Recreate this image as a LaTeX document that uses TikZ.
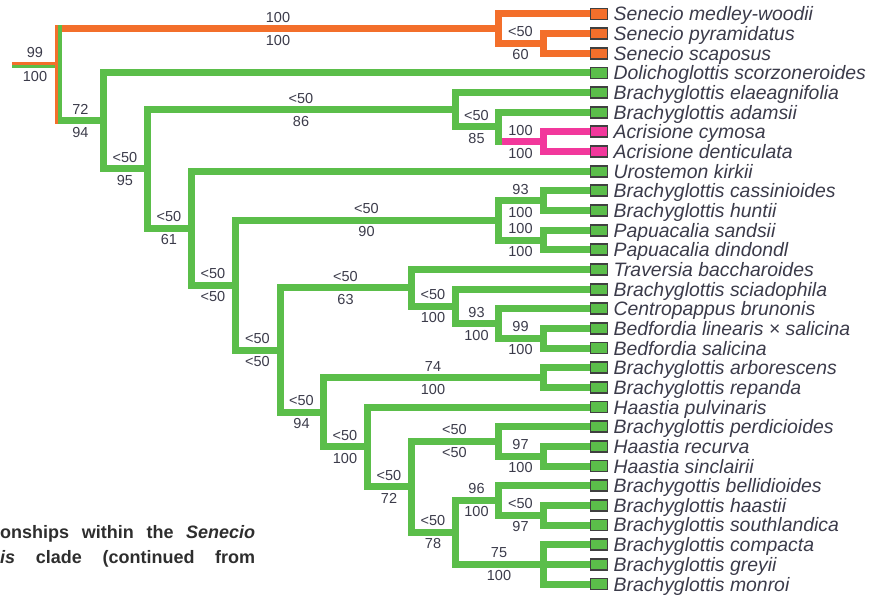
\documentclass[tikz,border=0pt]{standalone}
\usepackage{fontspec}
\setmainfont{Liberation Sans}
\usetikzlibrary{positioning}
\definecolor{treegreen}{HTML}{5BBE4A}
\definecolor{treeorange}{HTML}{F36F2B}
\definecolor{treepink}{HTML}{F2389C}
\definecolor{labelgray}{HTML}{3B3B4A}
\tikzset{
  branch/.style={line width=7pt},
  tipbox/.style={draw=black!75, line width=1.8pt, minimum width=17pt, minimum height=11pt, inner sep=0pt},
  taxon/.style={inner sep=0pt, text height=18pt, text depth=4pt, text=labelgray, font=\fontsize{19.4}{20}\selectfont\itshape},
  support/.style={inner sep=0pt, text=labelgray, font=\fontsize{14.5}{15}\selectfont},
  upval/.style={support, pos=.75, yshift=11.5pt},
  downval/.style={support, pos=.75, yshift=-11.5pt},
  captiontext/.style={anchor=base west, inner sep=0pt, text=black!82, font=\fontsize{18}{20}\selectfont\bfseries},
}
\begin{document}
\begin{tikzpicture}[x=1pt, y=-1pt]
      \useasboundingbox (0,0) rectangle (876,601);
      % tips
      \path
        (599,14.0) node[tipbox, fill=treeorange] (t0){}
        (599,33.7) node[tipbox, fill=treeorange] (t1){}
        (599,53.3) node[tipbox, fill=treeorange] (t2){}
        (599,73.0) node[tipbox, fill=treegreen] (t3){}
        (599,92.6) node[tipbox, fill=treegreen] (t4){}
        (599,112.3) node[tipbox, fill=treegreen] (t5){}
        (599,131.9) node[tipbox, fill=treepink] (t6){}
        (599,151.6) node[tipbox, fill=treepink] (t7){}
        (599,171.2) node[tipbox, fill=treegreen] (t8){}
        (599,190.9) node[tipbox, fill=treegreen] (t9){}
        (599,210.6) node[tipbox, fill=treegreen] (t10){}
        (599,230.2) node[tipbox, fill=treegreen] (t11){}
        (599,249.9) node[tipbox, fill=treegreen] (t12){}
        (599,269.5) node[tipbox, fill=treegreen] (t13){}
        (599,289.2) node[tipbox, fill=treegreen] (t14){}
        (599,308.8) node[tipbox, fill=treegreen] (t15){}
        (599,328.5) node[tipbox, fill=treegreen] (t16){}
        (599,348.1) node[tipbox, fill=treegreen] (t17){}
        (599,367.8) node[tipbox, fill=treegreen] (t18){}
        (599,387.4) node[tipbox, fill=treegreen] (t19){}
        (599,407.1) node[tipbox, fill=treegreen] (t20){}
        (599,426.8) node[tipbox, fill=treegreen] (t21){}
        (599,446.4) node[tipbox, fill=treegreen] (t22){}
        (599,466.1) node[tipbox, fill=treegreen] (t23){}
        (599,485.7) node[tipbox, fill=treegreen] (t24){}
        (599,505.4) node[tipbox, fill=treegreen] (t25){}
        (599,525.0) node[tipbox, fill=treegreen] (t26){}
        (599,544.7) node[tipbox, fill=treegreen] (t27){}
        (599,564.3) node[tipbox, fill=treegreen] (t28){}
        (599,584.0) node[tipbox, fill=treegreen] (t29){};
      % taxon names
      \path
        node[taxon, right=5pt of t0] (l0){Senecio medley-woodii}
        node[taxon, right=5pt of t1] (l1){Senecio pyramidatus}
        node[taxon, right=5pt of t2] (l2){Senecio scaposus}
        node[taxon, right=5pt of t3] (l3){Dolichoglottis scorzoneroides}
        node[taxon, right=5pt of t4] (l4){Brachyglottis elaeagnifolia}
        node[taxon, right=5pt of t5] (l5){Brachyglottis adamsii}
        node[taxon, right=5pt of t6] (l6){Acrisione cymosa}
        node[taxon, right=5pt of t7] (l7){Acrisione denticulata}
        node[taxon, right=5pt of t8] (l8){Urostemon kirkii}
        node[taxon, right=5pt of t9] (l9){Brachyglottis cassinioides}
        node[taxon, right=5pt of t10] (l10){Brachyglottis huntii}
        node[taxon, right=5pt of t11] (l11){Papuacalia sandsii}
        node[taxon, right=5pt of t12] (l12){Papuacalia dindondl}
        node[taxon, right=5pt of t13] (l13){Traversia baccharoides}
        node[taxon, right=5pt of t14] (l14){Brachyglottis sciadophila}
        node[taxon, right=5pt of t15] (l15){Centropappus brunonis}
        node[taxon, right=5pt of t16] (l16){Bedfordia linearis × salicina}
        node[taxon, right=5pt of t17] (l17){Bedfordia salicina}
        node[taxon, right=5pt of t18] (l18){Brachyglottis arborescens}
        node[taxon, right=5pt of t19] (l19){Brachyglottis repanda}
        node[taxon, right=5pt of t20] (l20){Haastia pulvinaris}
        node[taxon, right=5pt of t21] (l21){Brachyglottis perdicioides}
        node[taxon, right=5pt of t22] (l22){Haastia recurva}
        node[taxon, right=5pt of t23] (l23){Haastia sinclairii}
        node[taxon, right=5pt of t24] (l24){Brachygottis bellidioides}
        node[taxon, right=5pt of t25] (l25){Brachyglottis haastii}
        node[taxon, right=5pt of t26] (l26){Brachyglottis southlandica}
        node[taxon, right=5pt of t27] (l27){Brachyglottis compacta}
        node[taxon, right=5pt of t28] (l28){Brachyglottis greyii}
        node[taxon, right=5pt of t29] (l29){Brachyglottis monroi};
      % clade points
      \coordinate (rootin) at (12,65);
      \coordinate (root) at (58,65);
      \coordinate (rtop) at (58,25.25);
      \coordinate (rbot) at (58,124.5);
      \coordinate (sen1) at (498,28.75);
      \coordinate (sen2) at (543,43.5);
      \coordinate (n1) at (103,121.0);
      \coordinate (n2) at (147,169.0);
      \coordinate (n3) at (455,109.8);
      \coordinate (n5) at (498,127.0);
      \coordinate (n6) at (543,141.75);
      \coordinate (n4) at (191,228.2);
      \coordinate (n7) at (235,285.25);
      \coordinate (n8) at (498,220.4);
      \coordinate (n10) at (543,200.75);
      \coordinate (n11) at (543,240.05);
      \coordinate (n9) at (280,350.1);
      \coordinate (n12) at (411,287.95);
      \coordinate (n13) at (455,306.4);
      \coordinate (n14) at (498,323.55);
      \coordinate (n15) at (543,338.3);
      \coordinate (n16) at (323,412.3);
      \coordinate (n17) at (543,377.6);
      \coordinate (n18) at (367,447.0);
      \coordinate (n19) at (411,486.95);
      \coordinate (n20) at (498,441.5);
      \coordinate (n21) at (543,456.25);
      \coordinate (n22) at (455,532.4);
      \coordinate (n23) at (498,500.45);
      \coordinate (n24) at (543,515.2);
      \coordinate (n25) at (543,564.3);
      % root
      \draw[line width=3pt, treeorange] ([yshift=1.5pt]rootin) -- ([yshift=1.5pt]root)
        node[support, midway, yshift=10.5pt] (ru){99};
      \draw[line width=3pt, treegreen] ([yshift=-1.5pt]rootin) -- ([yshift=-1.5pt]root)
        node[support, midway, yshift=-10.5pt] (rd){100};
      \begin{scope}[branch, treeorange]
        \draw (root |- sen1) -- (sen1) node[upval, pos=.5] (sen1u){100} node[downval, pos=.5] (sen1d){100};
        \draw (sen1) |- (t0.west);
        \draw (sen1) |- (sen2) node[upval] (sen2u){<50} node[downval] (sen2d){60};
        \draw (sen2) |- (t1.west);
        \draw (sen2) |- (t2.west);
      \end{scope}
      \begin{scope}[branch, treepink]
        \draw (n5) |- (n6) node[upval] (n6u){100} node[downval] (n6d){100};
        \draw (n6) |- (t6.west);
        \draw (n6) |- (t7.west);
      \end{scope}
      \begin{scope}[branch, treegreen]
        \draw (root |- n1) -- (n1) node[upval, pos=.5] (n1u){72} node[downval, pos=.5] (n1d){94};
        \draw (n1) |- (t3.west);
        \draw (n1) |- (n2) node[upval] (n2u){<50} node[downval] (n2d){95};
        \draw (n2) |- (n3) node[upval] (n3u){<50} node[downval] (n3d){86};
        \draw (n3) |- (t4.west);
        \draw (n3) |- (n5) node[upval] (n5u){<50} node[downval] (n5d){85};
        \draw (n5) |- (t5.west);
        \draw[line cap=rect] (n5) -- (n5 |- n6);
        \draw (n2) |- (n4) node[upval] (n4u){<50} node[downval] (n4d){61};
        \draw (n4) |- (t8.west);
        \draw (n4) |- (n7) node[upval] (n7u){<50} node[downval] (n7d){<50};
        \draw (n7) |- (n8) node[upval] (n8u){<50} node[downval] (n8d){90};
        \draw (n8) |- (n10) node[upval] (n10u){93} node[downval] (n10d){100};
        \draw (n10) |- (t9.west);
        \draw (n10) |- (t10.west);
        \draw (n8) |- (n11) node[upval] (n11u){100} node[downval] (n11d){100};
        \draw (n11) |- (t11.west);
        \draw (n11) |- (t12.west);
        \draw (n7) |- (n9) node[upval] (n9u){<50} node[downval] (n9d){<50};
        \draw (n9) |- (n12) node[upval] (n12u){<50} node[downval] (n12d){63};
        \draw (n12) |- (t13.west);
        \draw (n12) |- (n13) node[upval] (n13u){<50} node[downval] (n13d){100};
        \draw (n13) |- (t14.west);
        \draw (n13) |- (n14) node[upval] (n14u){93} node[downval] (n14d){100};
        \draw (n14) |- (t15.west);
        \draw (n14) |- (n15) node[upval] (n15u){99} node[downval] (n15d){100};
        \draw (n15) |- (t16.west);
        \draw (n15) |- (t17.west);
        \draw (n9) |- (n16) node[upval] (n16u){<50} node[downval] (n16d){94};
        \draw (n16) |- (n17) node[upval] (n17u){74} node[downval] (n17d){100};
        \draw (n17) |- (t18.west);
        \draw (n17) |- (t19.west);
        \draw (n16) |- (n18) node[upval] (n18u){<50} node[downval] (n18d){100};
        \draw (n18) |- (t20.west);
        \draw (n18) |- (n19) node[upval] (n19u){<50} node[downval] (n19d){72};
        \draw (n19) |- (n20) node[upval] (n20u){<50} node[downval] (n20d){<50};
        \draw (n20) |- (t21.west);
        \draw (n20) |- (n21) node[upval] (n21u){97} node[downval] (n21d){100};
        \draw (n21) |- (t22.west);
        \draw (n21) |- (t23.west);
        \draw (n19) |- (n22) node[upval] (n22u){<50} node[downval] (n22d){78};
        \draw (n22) |- (n23) node[upval] (n23u){96} node[downval] (n23d){100};
        \draw (n23) |- (t24.west);
        \draw (n23) |- (n24) node[upval] (n24u){<50} node[downval] (n24d){97};
        \draw (n24) |- (t25.west);
        \draw (n24) |- (t26.west);
        \draw (n22) |- (n25) node[upval] (n25u){75} node[downval] (n25d){100};
        \draw (n25) |- (t27.west);
        \draw (n25) |- (t28.west);
        \draw (n25) |- (t29.west);
      \end{scope}
      % split root line
      \draw[line width=3.5pt, treeorange] ([xshift=-1.75pt]rtop) -- ([xshift=-1.75pt]rbot);
      \draw[line width=3.5pt, treegreen] ([xshift=1.75pt]rtop) -- ([xshift=1.75pt]rbot);
      % caption fragment
      \node[captiontext] (cap1) at (0,538) {\makebox[255pt][s]{onships within the \textit{Senecio}}};
      \node[captiontext] (cap2) at (0,563) {\makebox[255pt][s]{\textit{is} clade (continued from}};
    \end{tikzpicture}
\end{document}
